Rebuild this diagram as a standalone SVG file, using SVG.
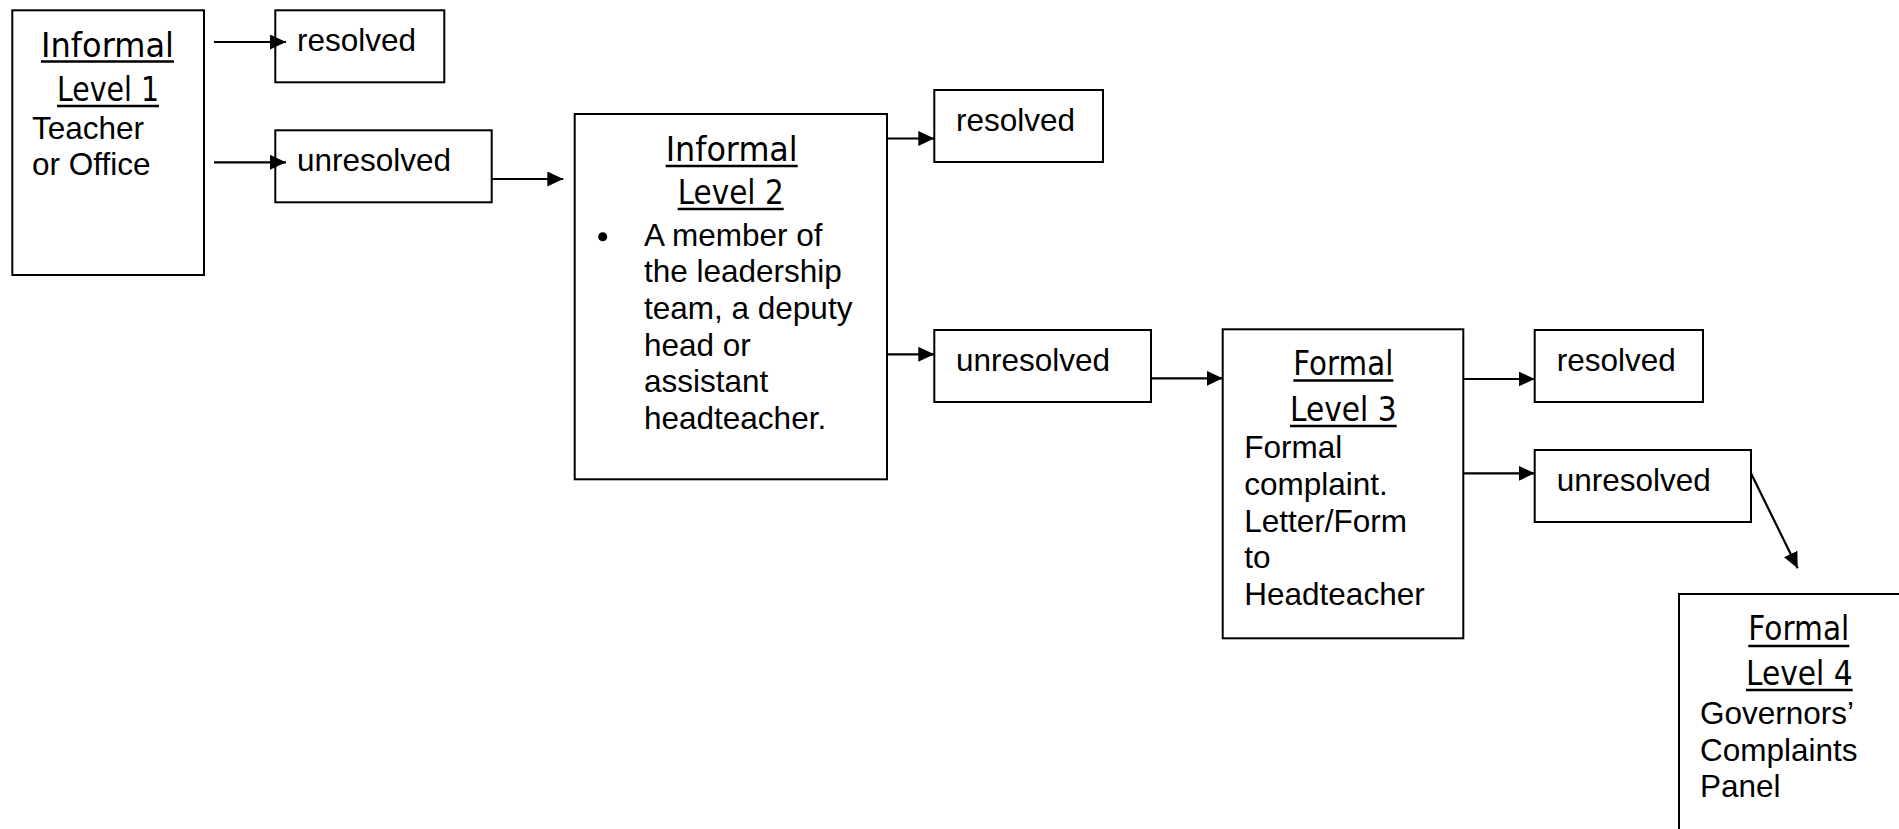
<svg xmlns="http://www.w3.org/2000/svg" width="1899" height="829" viewBox="0 0 1899 829">
<style>
.box{fill:#fff;stroke:#000;stroke-width:2}
.t{font-family:"Liberation Sans",Arial,sans-serif;font-size:31.5px;fill:#000}
.h{font-family:"DejaVu Sans",sans-serif;font-size:33px;fill:#000}
.u{stroke:#000;stroke-width:2.5}
.c{fill:none;stroke:#000;stroke-width:2.2}
</style>
<defs>
<marker id="ah" markerUnits="userSpaceOnUse" markerWidth="17" markerHeight="15" refX="16" refY="7.5" orient="auto">
<path d="M0,0 L16,7.5 L0,15 z" fill="#000"/>
</marker>
</defs>
<rect width="1899" height="829" fill="#fff"/>
<g id="level1">
<rect class="box" x="12.3" y="10.3" width="191.7" height="264.7"/>
<text class="h" x="41" y="57" textLength="133" lengthAdjust="spacingAndGlyphs">Informal</text>
<line class="u" x1="41" y1="61.5" x2="174" y2="61.5"/>
<text class="h" x="57" y="101" textLength="102" lengthAdjust="spacingAndGlyphs">Level 1</text>
<line class="u" x1="57" y1="106" x2="159" y2="106"/>
<text class="t" x="32" y="139">Teacher</text>
<text class="t" x="32" y="175">or Office</text>
</g>
<g id="resolved1">
<rect class="box" x="275.3" y="10.3" width="169" height="72"/>
<text class="t" x="297" y="51.3">resolved</text>
</g>
<g id="unresolved1">
<rect class="box" x="275.3" y="130.3" width="216.4" height="72"/>
<text class="t" x="297" y="171.3">unresolved</text>
</g>
<g id="level2">
<rect class="box" x="574.7" y="114" width="312.3" height="365.3"/>
<text class="h" x="665.7" y="160.7" textLength="132" lengthAdjust="spacingAndGlyphs">Informal</text>
<line class="u" x1="665.7" y1="166" x2="797.7" y2="166"/>
<text class="h" x="677.7" y="204" textLength="106" lengthAdjust="spacingAndGlyphs">Level 2</text>
<line class="u" x1="677.7" y1="209" x2="783.7" y2="209"/>
<circle cx="602.7" cy="236.7" r="4.5" fill="#000"/>
<text class="t" x="644" y="245.7">A member of</text>
<text class="t" x="644" y="282.3">the leadership</text>
<text class="t" x="644" y="318.9">team, a deputy</text>
<text class="t" x="644" y="355.5">head or</text>
<text class="t" x="644" y="392.1">assistant</text>
<text class="t" x="644" y="428.7">headteacher.</text>
</g>
<g id="resolved2">
<rect class="box" x="934.3" y="90" width="168.7" height="72"/>
<text class="t" x="956" y="131">resolved</text>
</g>
<g id="unresolved2">
<rect class="box" x="934.3" y="330" width="216.7" height="72"/>
<text class="t" x="956" y="371">unresolved</text>
</g>
<g id="level3">
<rect class="box" x="1222.7" y="329.3" width="240.6" height="309"/>
<text class="h" x="1293.3" y="375" textLength="100" lengthAdjust="spacingAndGlyphs">Formal</text>
<line class="u" x1="1293.3" y1="380.5" x2="1393.3" y2="380.5"/>
<text class="h" x="1290" y="420.7" textLength="106.7" lengthAdjust="spacingAndGlyphs">Level 3</text>
<line class="u" x1="1290" y1="426" x2="1396.7" y2="426"/>
<text class="t" x="1244.3" y="458.3">Formal</text>
<text class="t" x="1244.3" y="495">complaint.</text>
<text class="t" x="1244.3" y="531.7">Letter/Form</text>
<text class="t" x="1244.3" y="568.3">to</text>
<text class="t" x="1244.3" y="605">Headteacher</text>
</g>
<g id="resolved3">
<rect class="box" x="1534.7" y="330" width="168.3" height="72"/>
<text class="t" x="1556.7" y="371">resolved</text>
</g>
<g id="unresolved3">
<rect class="box" x="1534.7" y="450" width="216.3" height="72"/>
<text class="t" x="1556.7" y="491">unresolved</text>
</g>
<g id="level4">
<rect class="box" x="1679" y="594" width="300" height="300"/>
<text class="h" x="1748.3" y="640" textLength="101" lengthAdjust="spacingAndGlyphs">Formal</text>
<line class="u" x1="1748.3" y1="646" x2="1849.3" y2="646"/>
<text class="h" x="1746" y="685" textLength="106.7" lengthAdjust="spacingAndGlyphs">Level 4</text>
<line class="u" x1="1746" y1="690" x2="1852.7" y2="690"/>
<text class="t" x="1700" y="724">Governors’</text>
<text class="t" x="1700" y="760.7">Complaints</text>
<text class="t" x="1700" y="797.3">Panel</text>
</g>
<g id="connectors">
<line class="c" x1="214" y1="42" x2="286" y2="42" marker-end="url(#ah)"/>
<line class="c" x1="214" y1="162.3" x2="286" y2="162.3" marker-end="url(#ah)"/>
<line class="c" x1="491.7" y1="179" x2="563.3" y2="179" marker-end="url(#ah)"/>
<line class="c" x1="887" y1="138.5" x2="934.3" y2="138.5" marker-end="url(#ah)"/>
<line class="c" x1="887" y1="354.3" x2="934.3" y2="354.3" marker-end="url(#ah)"/>
<line class="c" x1="1151" y1="378.3" x2="1222.7" y2="378.3" marker-end="url(#ah)"/>
<line class="c" x1="1463.3" y1="379" x2="1534.7" y2="379" marker-end="url(#ah)"/>
<line class="c" x1="1463.3" y1="473.3" x2="1534.7" y2="473.3" marker-end="url(#ah)"/>
<line class="c" x1="1751" y1="473.3" x2="1797.7" y2="568.3" marker-end="url(#ah)"/>
</g>
</svg>
